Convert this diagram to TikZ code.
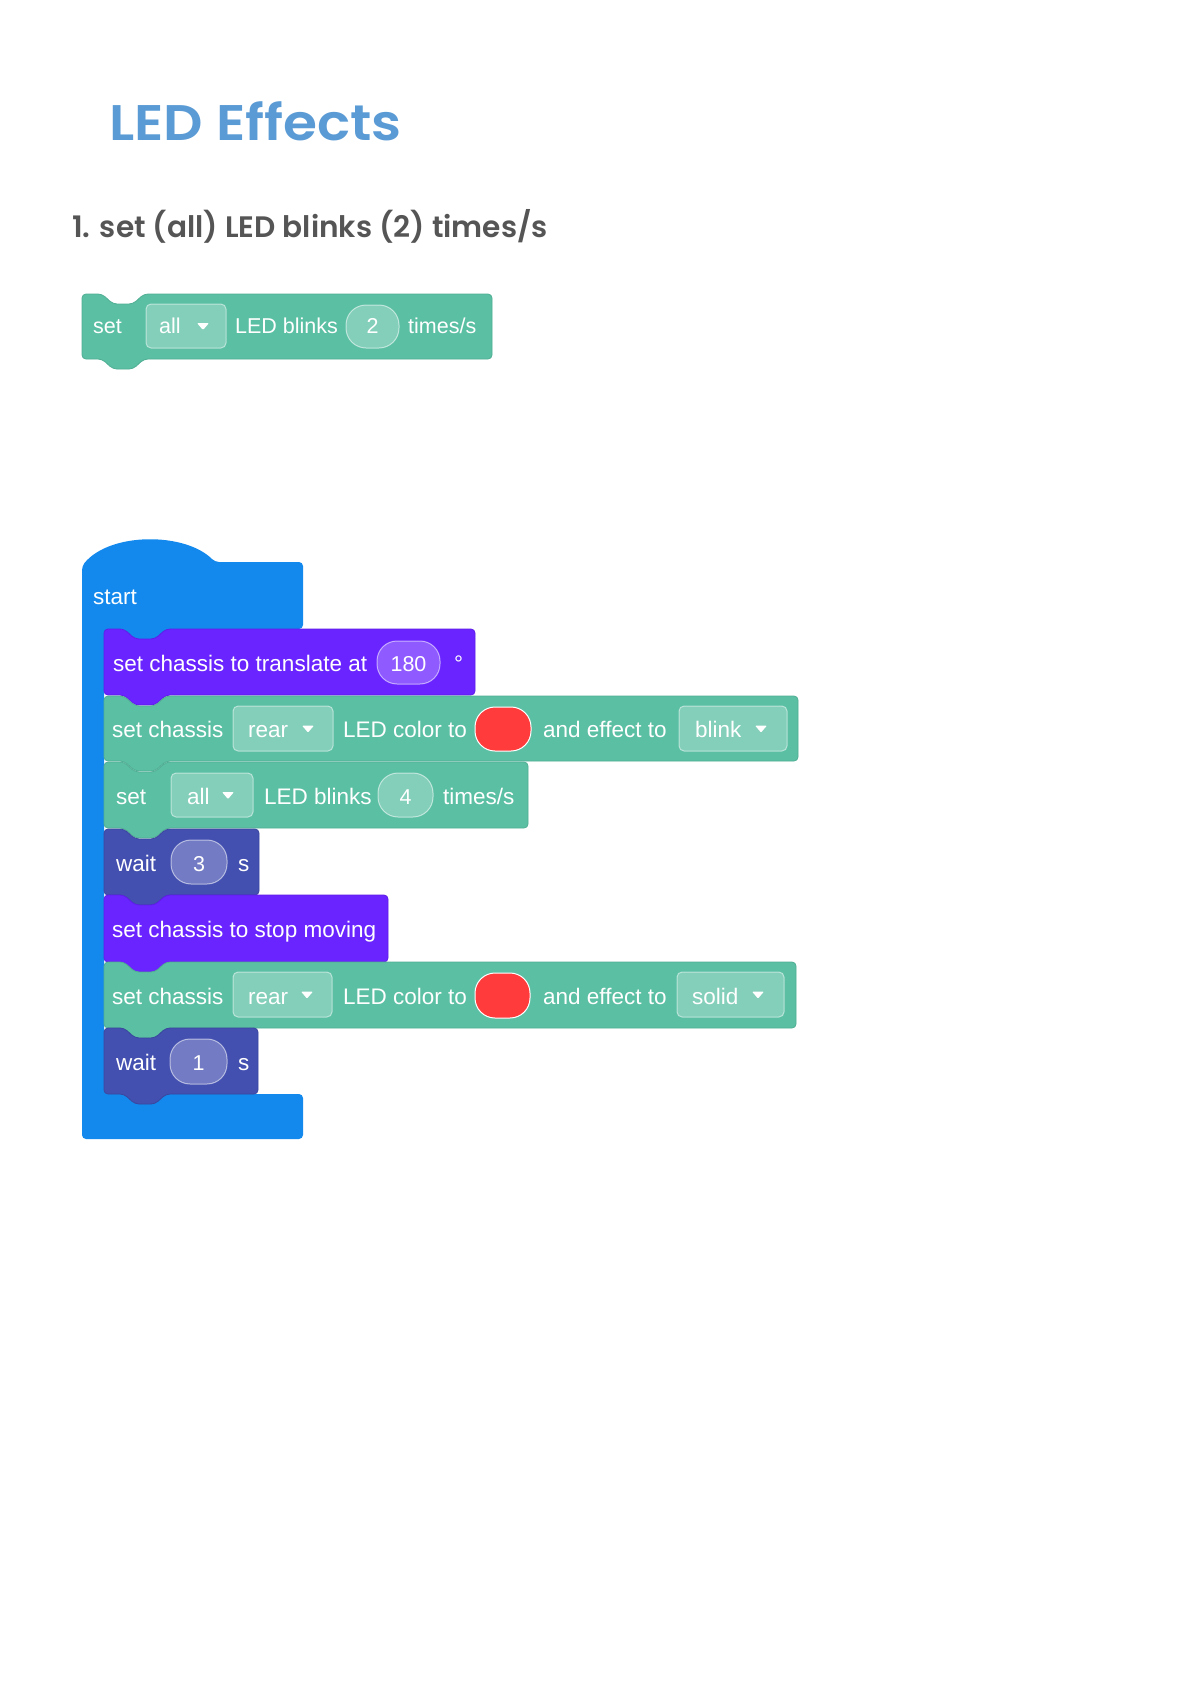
\documentclass[tikz,border=0pt]{standalone}
\usepackage{fontspec}
\setmainfont{Liberation Sans}
\newfontfamily\headfont{Poppins}[BoldFont={* SemiBold}]
\definecolor{blkteal}{HTML}{5BBFA3}
\definecolor{blktealdk}{HTML}{4FAE93}
\definecolor{blkpurple}{HTML}{6A24FF}
\definecolor{blkpurpledk}{HTML}{5E1CE6}
\definecolor{blkwait}{HTML}{4350B0}
\definecolor{blkwaitdk}{HTML}{3A469E}
\definecolor{blkstart}{HTML}{1389EE}
\definecolor{ledred}{HTML}{FF3B3B}
\definecolor{titleblue}{HTML}{5B9BD5}
\definecolor{subgray}{HTML}{555555}
% block: left, top, right, bottom, colour, border colour
\newcommand\codeblk[6]{%
  \filldraw[fill=#5, draw=#6, line width=0.8pt, rounded corners=4pt]
   (#1,#2) -- ({#1+20},#2) -- ({#1+31},{#2+10}) -- ({#1+51},{#2+10}) -- ({#1+62},#2)
   -- (#3,#2) -- (#3,#4) -- ({#1+62},#4) -- ({#1+51},{#4+10}) -- ({#1+31},{#4+10})
   -- ({#1+20},#4) -- (#1,#4) -- cycle;}
% dropdown box: x1,y1,x2,y2, arrow centre x
\newcommand\ddbox[5]{%
  \draw[ddsty] (#1,#2) rectangle (#3,#4);
  \fill[white, rounded corners=1pt] ({#5-6},{(#2+#4)/2-3}) -- ({#5+6},{(#2+#4)/2-3}) -- (#5,{(#2+#4)/2+4}) -- cycle;}
\begin{document}
\begin{tikzpicture}[x=1pt,y=-1pt,
  txt/.style={anchor=base west, inner sep=0pt, text=white, font=\fontsize{22.5}{26}\selectfont},
  txtsm/.style={anchor=base west, inner sep=0pt, text=white, font=\fontsize{21.5}{25}\selectfont},
  ctxt/.style={anchor=base, inner sep=0pt, text=white, font=\fontsize{21.5}{25}\selectfont},
  ddsty/.style={fill=white, fill opacity=0.25, draw=white, draw opacity=0.5, line width=1pt, rounded corners=5pt},
  ovsty/.style={fill=white, fill opacity=0.25, draw=white, draw opacity=0.55, line width=1pt, rounded corners=20pt},
  redov/.style={fill=ledred, draw=white, line width=1pt, rounded corners=20pt}]
\useasboundingbox (0,0) rectangle (1191,1684);
\fill[white] (0,0) rectangle (1191,1684);

% headings
\node[anchor=base west, inner sep=0pt, text=titleblue, font=\headfont\bfseries\fontsize{50}{58}\selectfont] (title) at (109,140) {\scalebox{1.1}[1]{LED Effects}};
\node[anchor=base west, inner sep=0pt, text=subgray, font=\headfont\bfseries\fontsize{29.6}{35}\selectfont] (subtitle) at (72,237) {1. set (all) LED blinks (2) times/s};

% standalone block
\codeblk{82}{294}{492}{359}{blkteal}{blktealdk}
\node[txtsm] (b1set) at (93,333) {set};
\ddbox{146}{304}{226}{348}{203}
\node[txtsm] (b1all) at (159,333) {all};
\node[txtsm] (b1led) at (235,333) {LED blinks};
\draw[ovsty] (346,305) rectangle (399,348);
\node[ctxt] (b1two) at (372.5,333) {2};
\node[txtsm] (b1times) at (408,333) {times/s};

% start hat block (C shape)
\fill[blkstart, rounded corners=4pt] (82,566) .. controls (110,532) and (185,532) .. (215,562)
  -- (303,562) -- (303,629) -- (167,629) -- (157,639) -- (135,639) -- (124,629)
  -- (104,629) -- (104,1094) -- (303,1094) -- (303,1139) -- (82,1139) -- cycle;
\node[txt] (start) at (93,604) {start};

% purple 1
\codeblk{104}{629}{475}{695}{blkpurple}{blkpurpledk}
\node[txt] (p1t) at (113,671) {set chassis to translate at};
\draw[ovsty] (377,641) rectangle (440,684);
\node[ctxt] (p1v) at (408.5,671) {180};
\node[txt] (p1deg) at (454,671) {°};

% green 1
\codeblk{104}{696}{798}{761}{blkteal}{blktealdk}
\node[txt] (g1a) at (112,737) {set chassis};
\ddbox{233}{706}{333}{751}{308}
\node[txt] (g1rear) at (248,737) {rear};
\node[txt] (g1b) at (343,737) {LED color to};
\draw[redov] (475,707) rectangle (531,751);
\node[txt] (g1c) at (543,737) {and effect to};
\ddbox{679}{706}{787}{751}{761}
\node[txt] (g1blink) at (695,737) {blink};

% green 2
\codeblk{104}{762}{528}{828}{blkteal}{blktealdk}
\node[txt] (g2a) at (116,804) {set};
\ddbox{171}{773}{253}{817}{228}
\node[txt] (g2all) at (187,804) {all};
\node[txt] (g2b) at (264,804) {LED blinks};
\draw[ovsty] (378,773) rectangle (433,817);
\node[ctxt] (g2v) at (405.5,804) {4};
\node[txt] (g2c) at (443,804) {times/s};

% wait 3
\codeblk{104}{829}{259}{895}{blkwait}{blkwaitdk}
\node[txt] (w1a) at (116,871) {wait};
\draw[ovsty] (171,840) rectangle (227,884);
\node[ctxt] (w1v) at (199,871) {3};
\node[txt] (w1s) at (238,871) {s};

% purple 2
\codeblk{104}{895}{388}{962}{blkpurple}{blkpurpledk}
\node[txt] (p2t) at (112,937) {set chassis to stop moving};

% green 3
\codeblk{104}{962}{796}{1028}{blkteal}{blktealdk}
\node[txt] (g3a) at (112,1004) {set chassis};
\ddbox{233}{972}{332}{1017}{307}
\node[txt] (g3rear) at (248,1004) {rear};
\node[txt] (g3b) at (343,1004) {LED color to};
\draw[redov] (475,973) rectangle (530,1018);
\node[txt] (g3c) at (543,1004) {and effect to};
\ddbox{677}{972}{784}{1017}{758}
\node[txt] (g3solid) at (692,1004) {solid};

% wait 1
\codeblk{104}{1028}{258}{1094}{blkwait}{blkwaitdk}
\node[txt] (w2a) at (116,1070) {wait};
\draw[ovsty] (170,1039) rectangle (227,1084);
\node[ctxt] (w2v) at (198.5,1070) {1};
\node[txt] (w2s) at (238,1070) {s};
\end{tikzpicture}
\end{document}
